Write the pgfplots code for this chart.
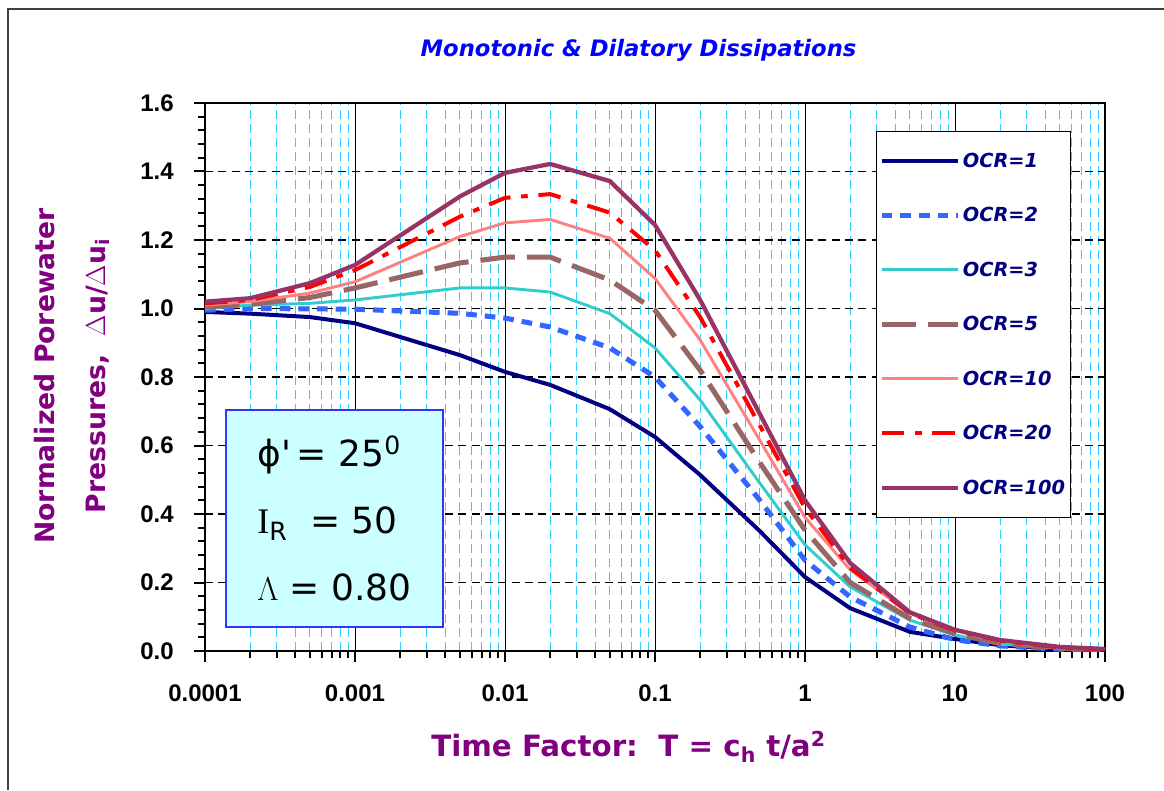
\documentclass[border=0pt]{standalone}
\usepackage{pgfplots}
\pgfplotsset{compat=1.18}
\usepackage{fontspec}
\setmainfont{Liberation Sans}
\newfontfamily\djv{DejaVu Sans}
\newfontfamily\serif{Liberation Serif}
\definecolor{cNavy}{HTML}{000080}
\definecolor{cBlue}{HTML}{3366FF}
\definecolor{cCyan}{HTML}{33CCCC}
\definecolor{cBrown}{HTML}{996666}
\definecolor{cSalmon}{HTML}{FF8080}
\definecolor{cRed}{HTML}{FF0000}
\definecolor{cPurple}{HTML}{993366}
\definecolor{cLabel}{HTML}{800080}
\definecolor{cTitle}{HTML}{0000FF}
\definecolor{cGrid}{HTML}{33CCFF}
\definecolor{cFill}{HTML}{CCFFFF}
\definecolor{cBox}{HTML}{3333FF}
\begin{document}
\begin{tikzpicture}[x=1pt,y=1pt]
\useasboundingbox (0,0) rectangle (873,592.5);
\draw[line width=1.5pt, color=black!75] (6,0) -- (6,585.75) -- (873,585.75);
\node[font=\djv\bfseries\itshape\fontsize{17}{20}\selectfont, text=cTitle] at (478.9,555) {Monotonic \& Dilatory Dissipations};
\node[font=\djv\bfseries\fontsize{22}{24}\selectfont, text=cLabel] at (471.4,32.25) {Time Factor:\ \ T = c\textsubscript{h} t/a\textsuperscript{2}};
\node[font=\djv\bfseries\fontsize{20}{38}\selectfont, text=cLabel, rotate=90, align=center] at (54,310.5) {Normalized Porewater\\Pressures,\ \ $\Delta$u/$\Delta$u\textsubscript{i}};
\begin{axis}[
  at={(153.75pt,104.25pt)}, anchor=south west,
  scale only axis, width=675pt, height=411pt,
  xmode=log, log basis x=10,
  xmin=1e-4, xmax=100, ymin=0, ymax=1.6,
  xtick={1e-4,1e-3,1e-2,1e-1,1,10,100},
  xticklabels={0.0001,0.001,0.01,0.1,1,10,100},
  minor xtick={2e-4,3e-4,4e-4,5e-4,6e-4,7e-4,8e-4,9e-4,
               2e-3,3e-3,4e-3,5e-3,6e-3,7e-3,8e-3,9e-3,
               2e-2,3e-2,4e-2,5e-2,6e-2,7e-2,8e-2,9e-2,
               0.2,0.3,0.4,0.5,0.6,0.7,0.8,0.9,
               2,3,4,5,6,7,8,9,
               20,30,40,50,60,70,80,90},
  ytick={0,0.2,0.4,0.6,0.8,1.0,1.2,1.4,1.6},
  minor y tick num=4,
  /pgf/number format/assume math mode=true,
  /pgf/number format/fixed, /pgf/number format/fixed zerofill, /pgf/number format/precision=1,
  ticklabel style={font=\bfseries\fontsize{18}{20}\selectfont},
  xticklabel style={yshift=-14pt},
  yticklabel style={xshift=-12pt},
  tick pos=left, tick align=outside,
  major tick length=8pt, minor tick length=5pt,
  every tick/.append style={black, line width=1.5pt},
  axis line style={line width=2pt},
  xmajorgrids=true, xminorgrids=true, ymajorgrids=true,
  major x grid style={black, line width=0.6pt, solid},
  minor x grid style={cGrid, line width=0.9pt, dash pattern=on 7pt off 3.5pt},
  major y grid style={black, line width=0.8pt, dash pattern=on 6pt off 4pt},
  legend style={at={(0.7456,0.949)}, anchor=north west, draw=black, line width=0.8pt,
    fill=white, inner xsep=2pt, inner ysep=14pt, row sep=24.6pt,
    font=\djv\bfseries\itshape\fontsize{14.5}{17}\selectfont, nodes={text=cNavy}},
  legend cell align=left,
  legend image code/.code={\draw[#1] (0pt,0pt) -- (57pt,0pt);},
]
\addplot[cNavy, line width=3pt] coordinates {
(1e-4,0.990) (2e-4,0.985) (5e-4,0.975) (1e-3,0.957) (5e-3,0.864) (1e-2,0.815)
(2e-2,0.777) (5e-2,0.706) (0.1,0.625) (0.2,0.514) (0.5,0.350) (1,0.216)
(2,0.125) (5,0.056) (10,0.035) (20,0.017) (50,0.005) (100,0.003)};
\addlegendentry{OCR=1}
\addplot[cBlue, line width=3.8pt, dash pattern=on 8pt off 6pt] coordinates {
(1e-4,0.995) (2e-4,1.000) (5e-4,0.999) (1e-3,0.998) (5e-3,0.986) (1e-2,0.972)
(2e-2,0.946) (5e-2,0.885) (0.1,0.800) (0.2,0.655) (0.5,0.440) (1,0.265)
(2,0.158) (5,0.070) (10,0.033) (20,0.015) (50,0.005) (100,0.003)};
\addlegendentry{OCR=2}
\addplot[cCyan, line width=2.2pt] coordinates {
(1e-4,1.000) (2e-4,1.010) (5e-4,1.015) (1e-3,1.025) (5e-3,1.060) (1e-2,1.060)
(2e-2,1.048) (5e-2,0.985) (0.1,0.885) (0.2,0.733) (0.5,0.490) (1,0.310)
(2,0.187) (5,0.090) (10,0.047) (20,0.020) (50,0.008) (100,0.004)};
\addlegendentry{OCR=3}
\addplot[cBrown, line width=3.8pt, dash pattern=on 26pt off 9pt] coordinates {
(1e-4,1.005) (2e-4,1.012) (5e-4,1.032) (1e-3,1.060) (5e-3,1.133) (1e-2,1.150)
(2e-2,1.150) (5e-2,1.083) (0.1,0.995) (0.2,0.820) (0.5,0.550) (1,0.353)
(2,0.200) (5,0.095) (10,0.050) (20,0.022) (50,0.008) (100,0.004)};
\addlegendentry{OCR=5}
\addplot[cSalmon, line width=2.2pt] coordinates {
(1e-4,1.010) (2e-4,1.020) (5e-4,1.045) (1e-3,1.078) (5e-3,1.210) (1e-2,1.250)
(2e-2,1.260) (5e-2,1.205) (0.1,1.088) (0.2,0.908) (0.5,0.615) (1,0.390)
(2,0.237) (5,0.110) (10,0.060) (20,0.028) (50,0.010) (100,0.005)};
\addlegendentry{OCR=10}
\addplot[cRed, line width=3pt, dash pattern=on 17pt off 8pt on 5pt off 8pt] coordinates {
(1e-4,1.015) (2e-4,1.025) (5e-4,1.063) (1e-3,1.112) (5e-3,1.268) (1e-2,1.323)
(2e-2,1.334) (5e-2,1.280) (0.1,1.170) (0.2,0.975) (0.5,0.658) (1,0.418)
(2,0.243) (5,0.110) (10,0.060) (20,0.030) (50,0.010) (100,0.005)};
\addlegendentry{OCR=20}
\addplot[cPurple, line width=3.2pt] coordinates {
(1e-4,1.020) (2e-4,1.030) (5e-4,1.074) (1e-3,1.127) (5e-3,1.327) (1e-2,1.396)
(2e-2,1.422) (5e-2,1.372) (0.1,1.244) (0.2,1.025) (0.5,0.692) (1,0.440)
(2,0.257) (5,0.113) (10,0.062) (20,0.032) (50,0.012) (100,0.006)};
\addlegendentry{OCR=100}
\node[draw=cBox, line width=1.2pt, fill=cFill, minimum width=162.75pt, minimum height=162.75pt,
  inner sep=0pt, align=left, font=\djv\fontsize{27}{50}\selectfont]
  at (rel axis cs:0.1439,0.2418)
  {ϕ'\,= 25\textsuperscript{0}\\{\serif I}\textsubscript{R}\ \ = 50\\$\Lambda$ = 0.80};
\end{axis}
\end{tikzpicture}
\end{document}
